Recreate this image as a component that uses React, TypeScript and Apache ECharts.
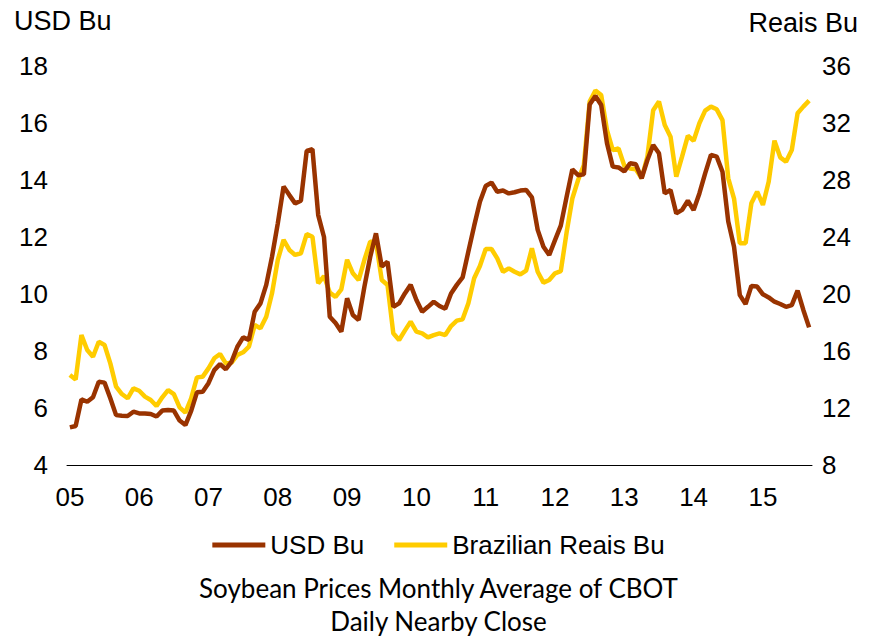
import React, { useEffect, useRef } from "react";
import * as echarts from "echarts";

const yearLabels = ["05", "06", "07", "08", "09", "10", "11", "12", "13", "14", "15"];
const monthsInLastYear = 9;

const usdBu = [
  5.32, 5.37, 6.30, 6.22, 6.38, 6.92, 6.89, 6.34, 5.75, 5.73, 5.72, 5.87,
  5.81, 5.81, 5.79, 5.70, 5.91, 5.93, 5.91, 5.56, 5.40, 5.90, 6.55, 6.57,
  6.87, 7.33, 7.54, 7.36, 7.63, 8.15, 8.48, 8.39, 9.38, 9.67, 10.32, 11.31,
  12.48, 13.77, 13.47, 13.18, 13.27, 15.02, 15.08, 12.77, 12.00, 9.20, 8.98, 8.68,
  9.85, 9.26, 9.09, 10.26, 11.30, 12.13, 10.96, 11.13, 9.55, 9.67, 10.02, 10.32,
  9.79, 9.38, 9.55, 9.73, 9.58, 9.48, 10.02, 10.32, 10.58, 11.49, 12.39, 13.24,
  13.79, 13.91, 13.59, 13.63, 13.53, 13.57, 13.63, 13.65, 13.39, 12.25, 11.66, 11.37,
  11.89, 12.40, 13.40, 14.37, 14.17, 14.20, 16.65, 16.95, 16.63, 15.29, 14.47, 14.44,
  14.30, 14.59, 14.55, 14.06, 14.70, 15.23, 14.94, 13.53, 13.65, 12.83, 12.95, 13.27,
  12.95, 13.53, 14.23, 14.88, 14.82, 14.29, 12.54, 11.66, 9.96, 9.65, 10.28, 10.26,
  9.99, 9.88, 9.73, 9.65, 9.55, 9.61, 10.12, 9.44, 8.83,
];

const reaisBu = [
  14.32, 14.00, 17.12, 16.07, 15.60, 16.65, 16.42, 15.13, 13.50, 12.98, 12.68, 13.38,
  13.21, 12.80, 12.56, 12.14, 12.75, 13.26, 12.98, 12.05, 11.67, 12.68, 14.15, 14.20,
  14.78, 15.49, 15.79, 15.13, 15.18, 15.72, 15.91, 16.30, 17.82, 17.59, 18.40, 20.05,
  22.39, 23.79, 23.09, 22.74, 22.86, 24.20, 24.02, 20.75, 21.26, 20.10, 19.80, 20.33,
  22.40, 21.45, 20.98, 22.40, 23.67, 23.67, 20.98, 20.63, 17.24, 16.77, 17.43, 18.06,
  17.36, 17.24, 16.96, 17.12, 17.24, 17.12, 17.75, 18.13, 18.22, 19.35, 21.10, 21.96,
  23.16, 23.16, 22.50, 21.56, 21.80, 21.56, 21.38, 21.64, 23.20, 21.56, 20.80, 20.98,
  21.45, 21.60, 24.30, 26.70, 28.00, 29.05, 33.50, 34.27, 33.96, 31.50, 30.10, 30.22,
  29.00, 28.80, 28.75, 28.12, 29.64, 32.90, 33.50, 31.86, 31.04, 28.23, 29.64, 31.10,
  30.76, 31.98, 32.87, 33.15, 32.96, 32.20, 28.12, 26.70, 23.56, 23.56, 26.36, 27.18,
  26.25, 27.88, 30.76, 29.59, 29.28, 30.10, 32.68, 33.15, 33.57,
];

const categories: string[] = [];
yearLabels.forEach((yy, yi) => {
  const n = yi === yearLabels.length - 1 ? monthsInLastYear : 12;
  for (let m = 1; m <= n; m++) categories.push(`${yy}-${String(m).padStart(2, "0")}`);
});

const FONT = "'Liberation Sans', Arial, sans-serif";
const TITLE_FONT = "Lato, 'Open Sans', sans-serif";
const BROWN = "#993300";
const YELLOW = "#FFCC00";

export default function App() {
  const ref = useRef<HTMLDivElement>(null);
  useEffect(() => {
    document.body.style.margin = "0";
    if (!ref.current) return;
    const chart = echarts.init(ref.current, null, { renderer: "svg" });
    chart.setOption({
      animation: false,
      backgroundColor: "#ffffff",
      textStyle: { fontFamily: FONT },
      grid: { left: 67, right: 65, top: 66, bottom: 173, containLabel: false },
      title: {
        text: "Soybean Prices Monthly Average of CBOT\nDaily Nearby Close",
        left: "center",
        top: 566,
        textStyle: {
          fontFamily: TITLE_FONT,
          fontWeight: "normal",
          fontSize: 26,
          lineHeight: 33,
          color: "#000",
        },
      },
      legend: {
        left: "center",
        top: 527,
        itemGap: 30,
        itemWidth: 53,
        itemHeight: 5,
        textStyle: { fontFamily: FONT, fontSize: 26, color: "#000" },
        data: [
          { name: "USD Bu", icon: "rect" },
          { name: "Brazilian Reais Bu", icon: "rect" },
        ],
      },
      graphic: [
        {
          type: "text",
          left: 14,
          top: 7,
          style: { text: "USD Bu", font: `27px ${FONT}`, fill: "#000" },
        },
        {
          type: "text",
          right: 19,
          top: 9,
          style: { text: "Reais Bu", font: `27px ${FONT}`, fill: "#000" },
        },
      ],
      xAxis: {
        type: "category",
        data: categories,
        boundaryGap: true,
        axisLine: { show: true, lineStyle: { color: "#000", width: 1 } },
        axisTick: { show: false },
        axisLabel: {
          interval: 11,
          margin: 19,
          fontSize: 26,
          color: "#000",
          fontFamily: FONT,
          formatter: (v: string) => v.split("-")[0],
        },
        splitLine: { show: false },
      },
      yAxis: [
        {
          type: "value",
          min: 4,
          max: 18,
          interval: 2,
          axisLine: { show: false },
          axisTick: { show: false },
          splitLine: { show: false },
          axisLabel: { margin: 19, fontSize: 26, color: "#000", fontFamily: FONT },
        },
        {
          type: "value",
          min: 8,
          max: 36,
          interval: 4,
          position: "right",
          axisLine: { show: false },
          axisTick: { show: false },
          splitLine: { show: false },
          axisLabel: { margin: 10, fontSize: 26, color: "#000", fontFamily: FONT },
        },
      ],
      series: [
        {
          name: "USD Bu",
          type: "line",
          yAxisIndex: 0,
          data: usdBu,
          showSymbol: false,
          symbol: "none",
          lineStyle: { color: BROWN, width: 4.5 },
          itemStyle: { color: BROWN },
          z: 3,
        },
        {
          name: "Brazilian Reais Bu",
          type: "line",
          yAxisIndex: 1,
          data: reaisBu,
          showSymbol: false,
          symbol: "none",
          lineStyle: { color: YELLOW, width: 4.5 },
          itemStyle: { color: YELLOW },
          z: 2,
        },
      ],
    });
    return () => chart.dispose();
  }, []);
  return <div ref={ref} style={{ width: 877, height: 638 }} />;
}
